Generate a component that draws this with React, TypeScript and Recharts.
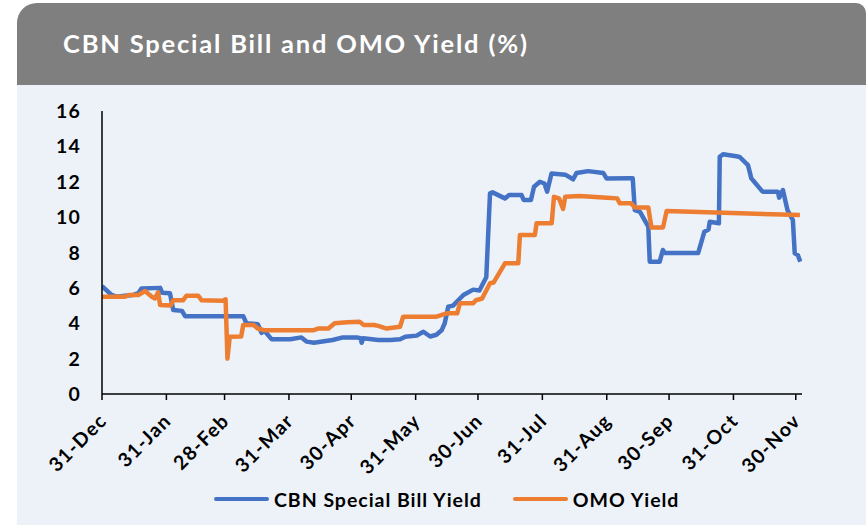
import React from "react";
import { LineChart, Line, XAxis, YAxis } from "recharts";

// Days since 31-Dec for each observation
const cbnDays = [0, 4.6, 7, 11, 15, 17.5, 19, 28, 29, 32.7, 34.3, 38.5, 40, 68, 69.5, 75, 76.8, 78, 81.6, 90.6, 96, 98.6, 102, 111, 116, 122.6, 124.5, 125, 125.8, 133, 139, 143.5, 146, 151.5, 154.7, 158, 161, 163.5, 165, 166.7, 169, 174, 178.7, 181.7, 185, 186.8, 188, 194, 196, 202, 203, 206.5, 208, 210.8, 213, 214.3, 216.4, 223, 226.8, 228.5, 234, 241.3, 242.9, 254, 255.5, 256.5, 259, 263, 263.7, 268.5, 270, 271, 287, 290, 292, 292.6, 297, 297.4, 299, 305.4, 307, 311, 312.6, 314, 318, 325.4, 326, 327.8, 330, 332.6, 333.5, 335, 336.2];
const cbnYield = [6.1, 5.6, 5.5, 5.55, 5.6, 5.7, 5.97, 6.0, 5.72, 5.7, 4.75, 4.7, 4.4, 4.4, 4.0, 3.95, 3.45, 3.6, 3.1, 3.1, 3.2, 2.96, 2.9, 3.05, 3.2, 3.2, 3.15, 2.9, 3.15, 3.05, 3.05, 3.1, 3.24, 3.3, 3.52, 3.25, 3.35, 3.6, 4.0, 4.93, 5.0, 5.6, 5.9, 5.85, 6.6, 11.35, 11.4, 11.06, 11.25, 11.25, 10.97, 10.97, 11.72, 12.0, 11.9, 11.44, 12.47, 12.4, 12.14, 12.5, 12.6, 12.5, 12.19, 12.2, 12.2, 10.4, 10.3, 9.46, 7.48, 7.48, 8.14, 7.97, 7.97, 9.18, 9.3, 9.74, 9.65, 13.41, 13.55, 13.44, 13.4, 12.94, 12.19, 12.0, 11.44, 11.44, 11.1, 11.53, 10.4, 9.84, 7.95, 7.85, 7.48];

const omoDays = [0, 11, 13, 17.5, 20.7, 24, 25.5, 27, 28, 33, 34.3, 39, 40.7, 46.3, 48, 58, 59.5, 60.4, 61.5, 67, 68, 73, 75, 78.4, 101.6, 104, 109, 112, 118, 124, 126, 131, 133, 137, 143.5, 145, 161, 166, 171, 172.3, 178.7, 180, 183, 186.8, 188.5, 194, 200.4, 201.2, 208.4, 209.2, 216.5, 217.6, 220, 222, 223, 230, 243, 248, 249.3, 254.7, 256.5, 263, 264.5, 270.1, 271.8, 336];
const omoYield = [5.5, 5.5, 5.6, 5.6, 5.82, 5.5, 5.4, 5.75, 5.03, 5.0, 5.3, 5.3, 5.56, 5.56, 5.3, 5.27, 5.35, 2.0, 3.24, 3.25, 3.9, 3.9, 3.7, 3.6, 3.6, 3.7, 3.7, 4.0, 4.05, 4.08, 3.9, 3.9, 3.85, 3.7, 3.8, 4.37, 4.37, 4.56, 4.56, 5.13, 5.13, 5.3, 5.4, 6.26, 6.3, 7.39, 7.39, 8.99, 8.99, 9.65, 9.65, 11.15, 11.06, 10.46, 11.15, 11.2, 11.1, 11.06, 10.78, 10.78, 10.55, 10.55, 9.42, 9.42, 10.34, 10.12];

const tickDays = [0, 31, 59, 90, 120, 151, 181, 212, 243, 273, 304, 334];
const tickLabels = ["31-Dec", "31-Jan", "28-Feb", "31-Mar", "30-Apr", "31-May", "30-Jun", "31-Jul", "31-Aug", "30-Sep", "31-Oct", "30-Nov"];
const yTicks = [0, 2, 4, 6, 8, 10, 12, 14, 16];

const seriesNames = ["CBN Special Bill Yield", "OMO Yield"];
const BLUE = "#4472C4";
const ORANGE = "#ED7D31";
const FONT = "Lato, 'Liberation Sans', sans-serif";

const cbnData = cbnDays.map((d, i) => ({ day: d, cbn: cbnYield[i] }));
const omoData = omoDays.map((d, i) => ({ day: d, omo: omoYield[i] }));

const XTick = (props: any) => {
  const { x, y, payload } = props;
  const idx = tickDays.indexOf(payload.value);
  const label = idx >= 0 ? tickLabels[idx] : "";
  const ax = x + 6;
  const ay = y + 22;
  return (
    <text
      x={ax}
      y={ay}
      transform={`rotate(-45 ${ax} ${ay})`}
      textAnchor="end"
      fontFamily={FONT}
      fontWeight={700}
      fontSize={19.5}
      fill="#000"
      style={{ letterSpacing: 1.3 }}
    >
      {label}
    </text>
  );
};

const YTick = (props: any) => {
  const { x, y, payload } = props;
  return (
    <text x={x} y={y} dy={7} textAnchor="end" fontFamily={FONT} fontWeight={700} fontSize={19.5} fill="#000" style={{ letterSpacing: 1.2 }}>
      {payload.value}
    </text>
  );
};

export default function App() {
  return (
    <div style={{ position: "absolute", left: 0, top: 0, width: 866, height: 525, background: "#fff", overflow: "hidden", fontFamily: FONT }}>
      <div style={{ position: "absolute", left: 17, top: 3, width: 849, height: 522, background: "#EDF2F9", borderTopLeftRadius: 20, borderTopRightRadius: 10, overflow: "hidden" }}>
        <div style={{ position: "absolute", left: 0, top: 0, width: 849, height: 82, background: "#7F7F7F" }} />
        <div style={{ position: "absolute", left: 46, top: 25, color: "#fff", fontWeight: 700, fontSize: 25.5, lineHeight: "30px", letterSpacing: 1.8, whiteSpace: "nowrap" }}>
          CBN Special Bill and OMO Yield (%)
        </div>
      </div>
      <div style={{ position: "absolute", left: 0, top: 0 }}>
        <LineChart width={866} height={525} margin={{ top: 111, right: 64, left: 42, bottom: 71 }}>
          <XAxis
            dataKey="day"
            type="number"
            domain={[0, 337]}
            ticks={tickDays}
            allowDataOverflow
            interval={0}
            height={60}
            tickSize={6}
            tickMargin={0}
            stroke="#000"
            strokeWidth={1.5}
            tick={<XTick />}
          />
          <YAxis
            type="number"
            domain={[0, 16]}
            ticks={yTicks}
            interval={0}
            width={60}
            tickLine={false}
            tickSize={6}
            tickMargin={15}
            stroke="#000"
            strokeWidth={1.5}
            tick={<YTick />}
          />
          <Line data={cbnData} dataKey="cbn" name={seriesNames[0]} type="linear" stroke={BLUE} strokeWidth={4.5} dot={false} isAnimationActive={false} strokeLinejoin="round" />
          <Line data={omoData} dataKey="omo" name={seriesNames[1]} type="linear" stroke={ORANGE} strokeWidth={4.5} dot={false} isAnimationActive={false} strokeLinejoin="round" />
        </LineChart>
      </div>
      <div style={{ position: "absolute", left: 214, top: 486, height: 26, display: "flex", alignItems: "center", fontWeight: 700, fontSize: 19.5, letterSpacing: 0.97, color: "#000", whiteSpace: "nowrap" }}>
        <span style={{ display: "inline-block", width: 55, height: 4, background: BLUE, borderRadius: 2, marginRight: 5 }} />
        <span>{seriesNames[0]}</span>
        <span style={{ display: "inline-block", width: 55, height: 4, background: ORANGE, borderRadius: 2, marginLeft: 31, marginRight: 5 }} />
        <span>{seriesNames[1]}</span>
      </div>
    </div>
  );
}
